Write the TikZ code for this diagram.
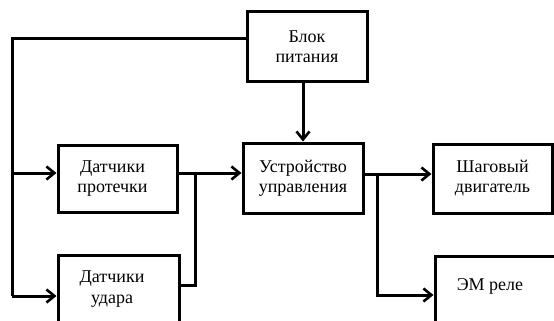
\documentclass[tikz,border=0pt]{standalone}
\usepackage{fontspec}
\setmainfont{Liberation Serif}
\usetikzlibrary{arrows.meta,calc}
\tikzset{
  blk/.style={draw=black, line width=3pt, fill=white, align=center, inner sep=0pt,
    font=\fontsize{18}{20}\selectfont},
  wire/.style={draw=black, line width=3pt},
  arr/.style={wire, -{Straight Barb[length=8pt,width=13pt,line width=2.6pt]}},
  lbl/.style={font=\fontsize{18}{21}\selectfont, inner sep=0pt}
}
\begin{document}
\begin{tikzpicture}[x=1pt,y=-1pt]
\useasboundingbox (0,0) rectangle (554,321);
\clip (0,0) rectangle (554,321);
\fill[white] (0,0) rectangle (554,321);
\node[blk, minimum width=120, minimum height=69] (pit) at (307,46.5) {Блок\\питания};
\node[blk, minimum width=119, minimum height=67] (prot) at (117.5,178.5) {Датчики\hspace*{10pt}\\протечки\hspace*{10pt}};
\node[blk, minimum width=121, minimum height=72] (udar) at (118.5,291) {};
\node[lbl, align=center] (udart) at (112,289) {Датчики\\удара};
\node[blk, minimum width=120, minimum height=70] (ust) at (303,178) {Устройство\\управления};
\node[blk, minimum width=119, minimum height=69] (shag) at (492.5,178.5) {Шаговый\\двигатель};
\node[blk, minimum width=130, minimum height=72] (em) at (500,292) {};
\node[lbl] (emt) at (490,286) {ЭМ реле};
% power lines
\coordinate (lt) at (12,39);
\coordinate (j1) at (12,173);
\coordinate (j2) at (195,173);
\coordinate (j3) at (377,174);
\draw[wire] (pit.west |- lt) -- (lt) -- (12,296);
\draw[arr] (12,296) -- (udar.west |- 0,296);
\draw[arr] (j1) -- (prot.west |- j1);
\draw[arr] (ust.north |- pit.south) -- (ust.north);
% sensors to controller
\draw[arr] (prot.east |- j2) -- (ust.west |- j2);
\draw[wire] (j2) -- (195,285) -- (udar.east |- 0,285);
% controller outputs
\draw[arr] (ust.east |- j3) -- (shag.west |- j3);
\draw[arr] (j3) -- (377,295) -- (em.west |- 0,295);
\end{tikzpicture}
\end{document}
